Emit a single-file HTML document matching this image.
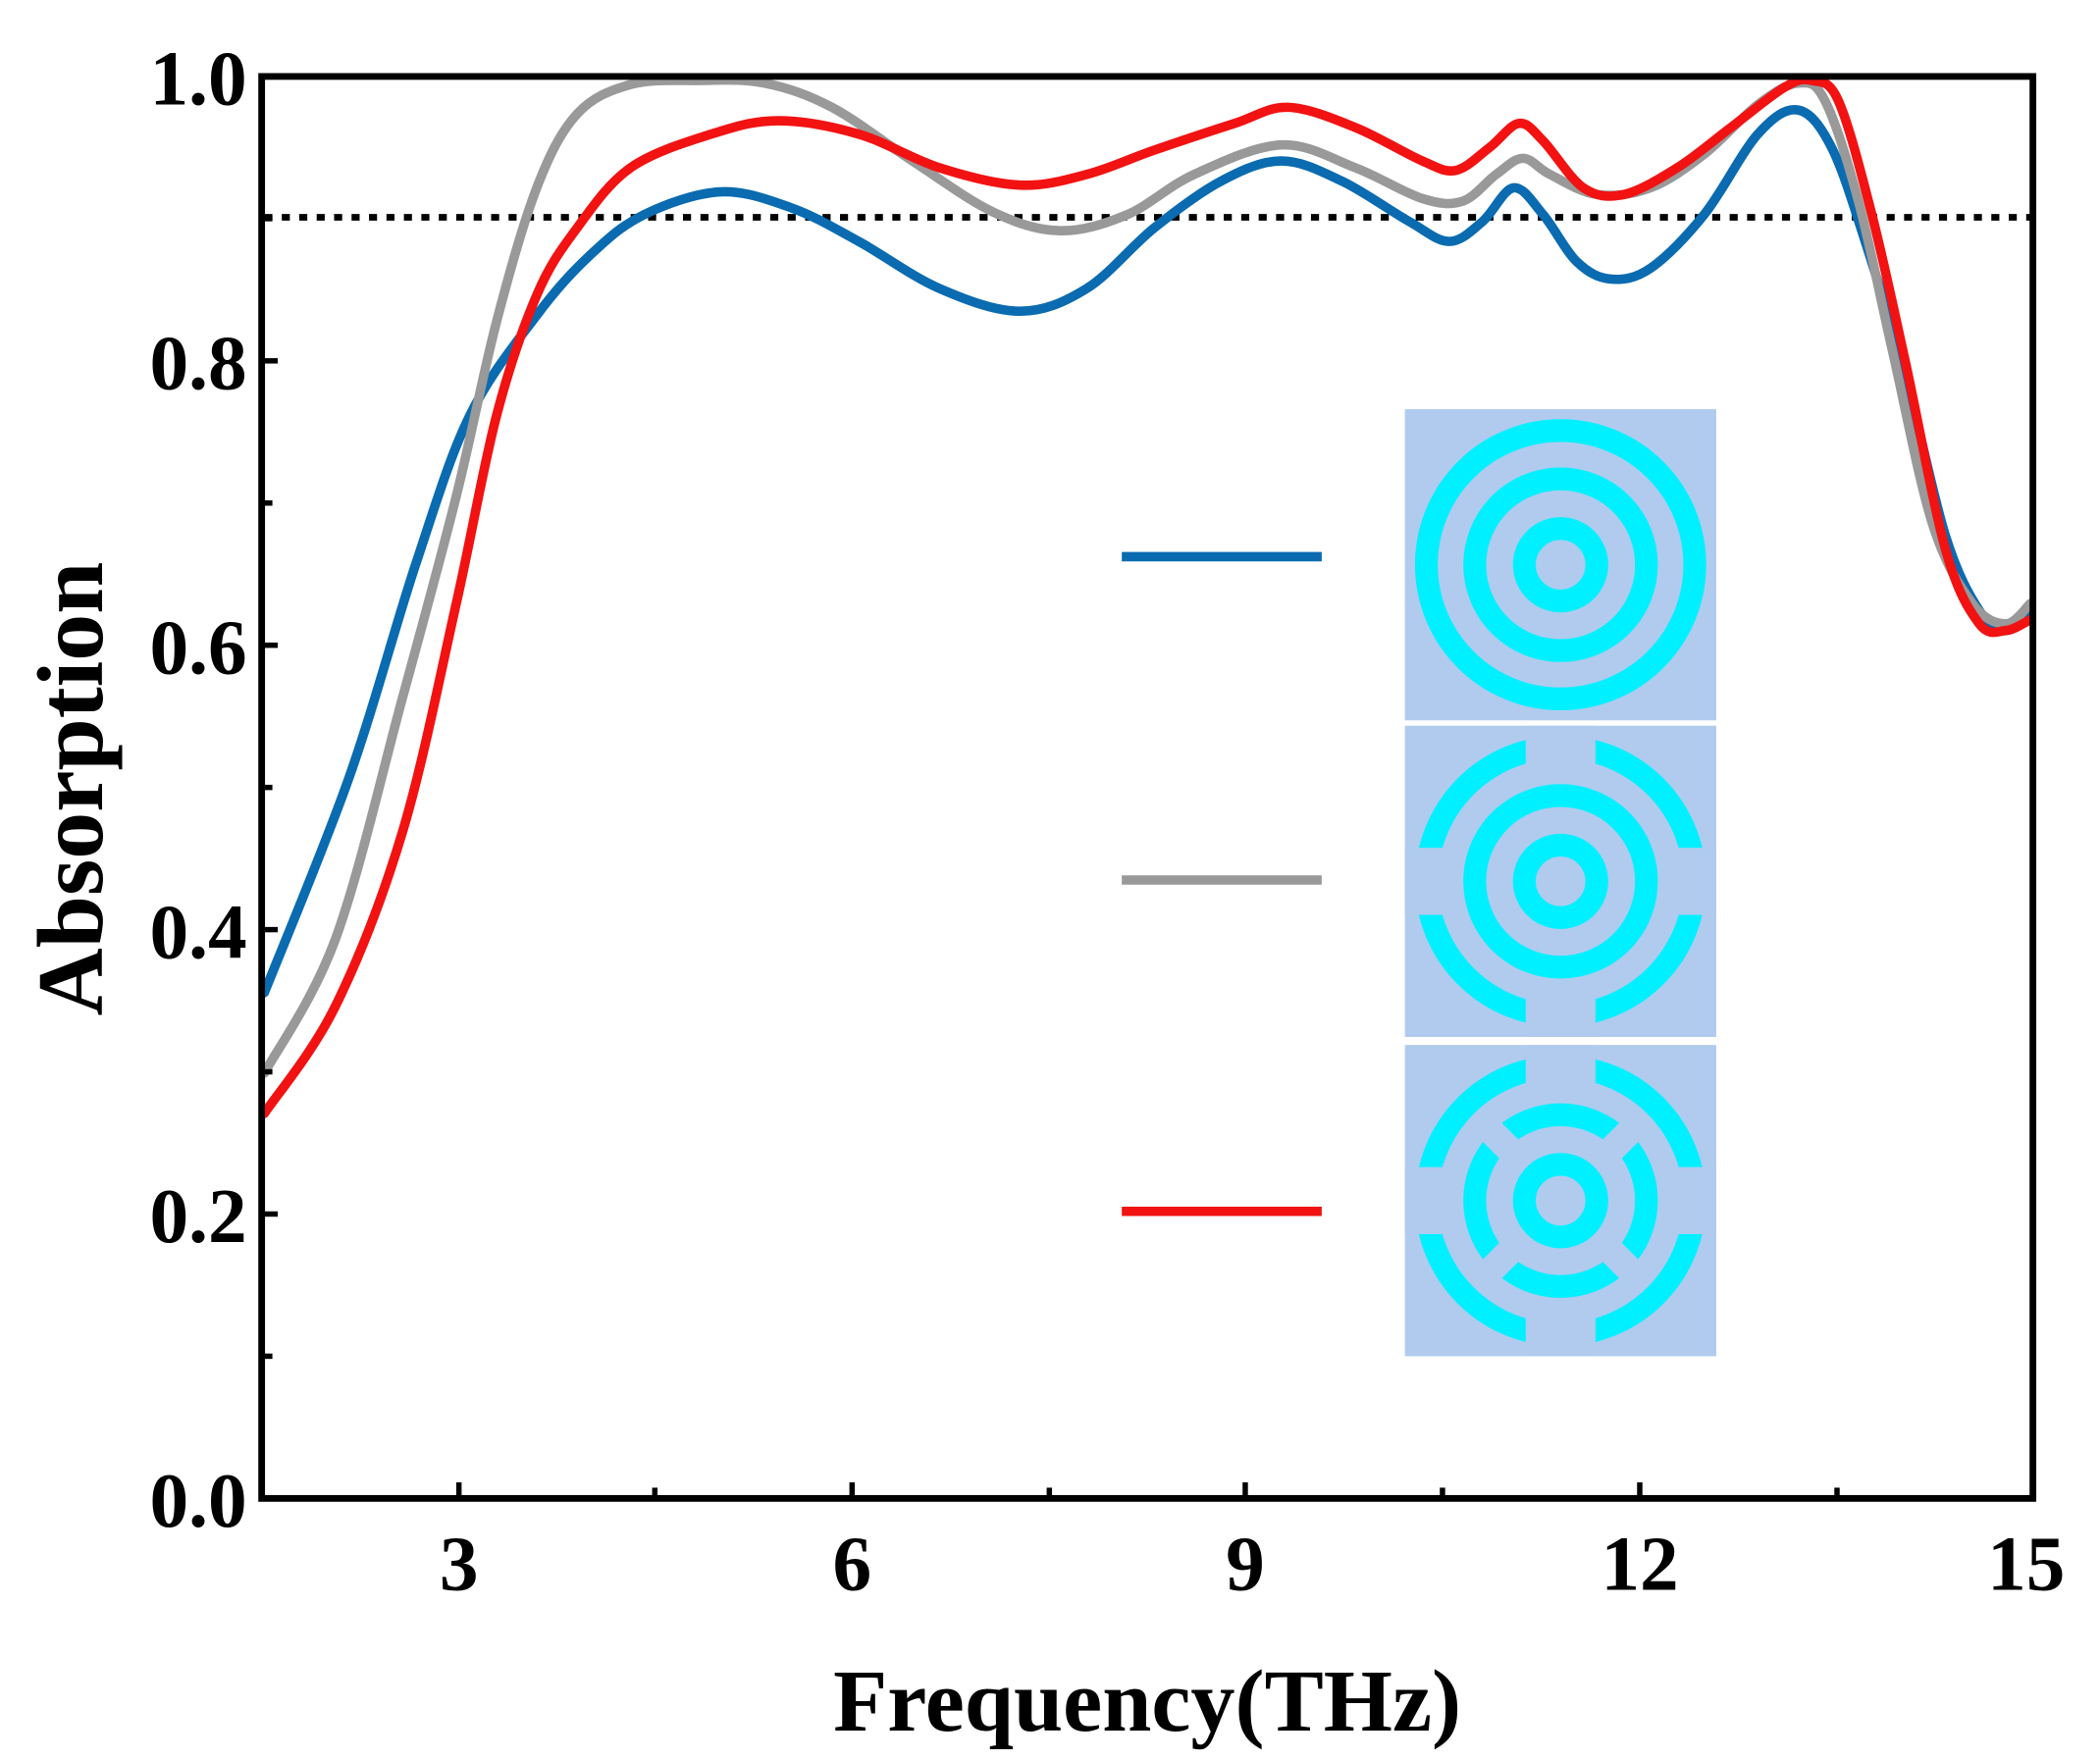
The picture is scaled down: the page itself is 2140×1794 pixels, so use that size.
<!DOCTYPE html>
<html><head><meta charset="utf-8"><style>
html,body{margin:0;padding:0;background:#fff;}
svg{display:block;}
text{font-family:"Liberation Serif",serif;font-weight:bold;fill:#000;}
</style></head><body>
<svg id="s" width="2140" height="1794" viewBox="0 0 1565 1312" preserveAspectRatio="none" xmlns="http://www.w3.org/2000/svg">
<rect width="1565" height="1312" fill="#fff"/>
<line x1="197" y1="162" x2="1513" y2="162" stroke="#000" stroke-width="5" stroke-dasharray="6,7"/>
<g id="curves" fill="none" stroke-width="7" stroke-linejoin="round" stroke-linecap="round"></g>
<rect x="195" y="57" width="1320" height="1060" fill="none" stroke="#000" stroke-width="5"/>
<g stroke="#000" stroke-width="4">
<line x1="197" y1="269" x2="207" y2="269"/><line x1="197" y1="481" x2="207" y2="481"/><line x1="197" y1="693" x2="207" y2="693"/><line x1="197" y1="905" x2="207" y2="905"/>
<line x1="197" y1="375" x2="203" y2="375"/><line x1="197" y1="587" x2="203" y2="587"/><line x1="197" y1="799" x2="203" y2="799"/><line x1="197" y1="1011" x2="203" y2="1011"/><line x1="197" y1="163" x2="203" y2="163"/>
<line x1="342" y1="1115" x2="342" y2="1105"/><line x1="635" y1="1115" x2="635" y2="1105"/><line x1="928" y1="1115" x2="928" y2="1105"/><line x1="1222" y1="1115" x2="1222" y2="1105"/>
<line x1="488" y1="1115" x2="488" y2="1109"/><line x1="782" y1="1115" x2="782" y2="1109"/><line x1="1075" y1="1115" x2="1075" y2="1109"/><line x1="1369" y1="1115" x2="1369" y2="1109"/>
</g>
<g font-size="58" text-anchor="end">
<text x="184" y="1138">0.0</text><text x="184" y="926">0.2</text><text x="184" y="714">0.4</text><text x="184" y="502">0.6</text><text x="184" y="290">0.8</text><text x="184" y="78">1.0</text>
</g>
<g font-size="58" text-anchor="middle">
<text x="342" y="1185">3</text><text x="635" y="1185">6</text><text x="928" y="1185">9</text><text x="1222" y="1185">12</text><text x="1510" y="1185">15</text>
</g>
<text x="855" y="1290" font-size="66" text-anchor="middle">Frequency(THz)</text>
<text transform="translate(76,588) rotate(-90)" font-size="70" text-anchor="middle">Absorption</text>
<line x1="836" y1="415" x2="985" y2="415" stroke="#0a6bb0" stroke-width="7"/>
<line x1="836" y1="656" x2="985" y2="656" stroke="#999" stroke-width="7"/>
<line x1="836" y1="903" x2="985" y2="903" stroke="#f21212" stroke-width="7"/>
<g id="ins"></g>
</svg>
<script>
function cr(p){let d="M"+p[0][0]+","+p[0][1];for(let i=0;i<p.length-1;i++){const a=p[i-1]||p[i],b=p[i],c=p[i+1],e=p[i+2]||c;
d+=" C"+(b[0]+(c[0]-a[0])/6)+","+(b[1]+(c[1]-a[1])/6)+" "+(c[0]-(e[0]-b[0])/6)+","+(c[1]-(e[1]-b[1])/6)+" "+c[0]+","+c[1];}return d;}
const blue=[[197,740],[260,580],[310,420],[350,310],[400,235],[440,190],[480,160],[537,143],[590,155],[640,180],[700,215],[760,232],[810,215],[860,170],[910,135],[955,120],[1000,135],[1050,165],[1080,180],[1105,165],[1128,140],[1150,160],[1175,195],[1200,208],[1230,200],[1270,160],[1310,100],[1340,82],[1365,110],[1390,180],[1420,280],[1450,400],[1475,455],[1495,470],[1513,455]];
const grey=[[197,800],[250,700],[300,520],[340,370],[370,240],[400,140],[430,85],[470,63],[520,60],[570,62],[620,80],[680,120],[740,158],[790,172],[840,160],[890,130],[955,108],[1010,125],[1060,148],[1090,150],[1115,130],[1135,118],[1155,130],[1190,145],[1230,140],[1270,115],[1310,78],[1340,62],[1360,75],[1385,150],[1410,260],[1440,390],[1470,450],[1495,465],[1513,450]];
const red=[[197,830],[250,750],[300,620],[340,450],[370,310],[400,220],[430,170],[470,125],[530,100],[580,90],[640,100],[700,125],[760,138],[810,130],[860,112],[920,92],[960,80],[1010,95],[1060,120],[1085,127],[1110,110],[1132,92],[1150,105],[1180,140],[1210,145],[1250,125],[1290,95],[1330,65],[1350,60],[1370,75],[1395,160],[1420,270],[1450,410],[1475,465],[1495,470],[1513,462]];
const g=document.getElementById("curves");const ns="http://www.w3.org/2000/svg";
[[blue,"#0a6bb0"],[grey,"#999"],[red,"#f21212"]].forEach(([p,c])=>{const e=document.createElementNS(ns,"path");e.setAttribute("d",cr(p));e.setAttribute("stroke",c);g.appendChild(e);});
const bg="#b0cbee",cy="#00f0ff";let h="";
[[305,0],[541,1],[779,2]].forEach(([y,t])=>{const cx=1163,cyy=y+116;
h+=`<rect x="1047" y="${y}" width="232" height="232" fill="${bg}"/>`;
h+=`<circle cx="${cx}" cy="${cyy}" r="100" fill="none" stroke="${cy}" stroke-width="17"/>`;
h+=`<circle cx="${cx}" cy="${cyy}" r="64" fill="none" stroke="${cy}" stroke-width="17"/>`;
h+=`<circle cx="${cx}" cy="${cyy}" r="27" fill="none" stroke="${cy}" stroke-width="17"/>`;
if(t>0){h+=`<rect x="${cx-26}" y="${cyy-116}" width="52" height="38" fill="${bg}"/><rect x="${cx-26}" y="${cyy+78}" width="52" height="38" fill="${bg}"/>`;
h+=`<rect x="${cx-116}" y="${cyy-25}" width="38" height="50" fill="${bg}"/><rect x="${cx+78}" y="${cyy-25}" width="38" height="50" fill="${bg}"/>`;}
if(t>1){[45,135,225,315].forEach(a=>{h+=`<rect x="${cx+40}" y="${cyy-10}" width="40" height="20" fill="${bg}" transform="rotate(${a} ${cx} ${cyy})"/>`;});}
});
document.getElementById("ins").innerHTML=h;
</script>
</body></html>
